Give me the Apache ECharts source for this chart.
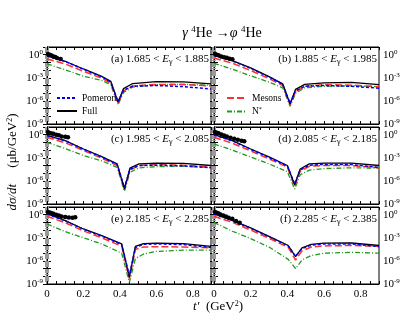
<!DOCTYPE html>
<html>
<head>
<meta charset="utf-8">
<script src="https://cdn.jsdelivr.net/npm/echarts@6/dist/echarts.min.js"></script>
<style>
  html, body { margin: 0; padding: 0; background: #fff; }
  #chart { width: 415px; height: 321px; }
</style>
</head>
<body>
<div id="chart"></div>
<script>
// t' grids (GeV^2), one per panel (dip position moves with E_gamma)
const tA = [0, 0.1, 0.2, 0.3, 0.35, 0.39, 0.42, 0.47, 0.6, 0.75, 0.9];
const tB = [0, 0.1, 0.2, 0.3, 0.375, 0.415, 0.445, 0.495, 0.6, 0.75, 0.9];
const tC = [0, 0.1, 0.2, 0.3, 0.385, 0.425, 0.455, 0.505, 0.6, 0.75, 0.9];
const tD = [0, 0.1, 0.2, 0.3, 0.4, 0.44, 0.47, 0.52, 0.6, 0.75, 0.9];
const tE = [0, 0.1, 0.2, 0.3, 0.41, 0.452, 0.485, 0.53, 0.6, 0.75, 0.9];
const tF = [0, 0.1, 0.2, 0.3, 0.405, 0.445, 0.48, 0.53, 0.6, 0.75, 0.9];

// dsigma/dt (mub/GeV^2)
const fullA = [7.4e-1, 1.4e-1, 1.4e-2, 1.55e-3, 3.5e-4, 6.5e-7, 4.0e-5, 1.8e-4, 3.2e-4, 3.0e-4, 1.6e-4];
const pomA  = [6.6e-1, 1.3e-1, 1.3e-2, 1.4e-3, 2.8e-4, 7.9e-7, 2.5e-5, 7.9e-5, 1.0e-4, 7.1e-5, 3.5e-5];
const mesA  = [2.8e-1, 6.3e-2, 7.1e-3, 8.9e-4, 2.0e-4, 5.0e-7, 2.0e-5, 8.9e-5, 1.4e-4, 1.3e-4, 8.9e-5];
const nstA  = [6.3e-2, 1.1e-2, 1.6e-3, 4.5e-4, 1.3e-4, 3.2e-7, 1.3e-5, 6.3e-5, 1.3e-4, 1.4e-4, 1.1e-4];

const fullB = [8.1e-1, 1.7e-1, 1.9e-2, 1.4e-3, 1.6e-4, 4.0e-7, 3.2e-5, 1.4e-4, 2.2e-4, 2.5e-4, 1.3e-4];
const pomB  = [7.6e-1, 1.6e-1, 1.7e-2, 1.3e-3, 1.4e-4, 5.0e-7, 2.0e-5, 7.9e-5, 1.0e-4, 7.9e-5, 4.5e-5];
const mesB  = [3.7e-1, 7.9e-2, 8.9e-3, 7.9e-4, 1.0e-4, 3.2e-7, 1.6e-5, 7.9e-5, 1.3e-4, 1.1e-4, 7.1e-5];
const nstB  = [7.6e-2, 1.3e-2, 1.8e-3, 2.8e-4, 5.0e-5, 2.0e-7, 1.0e-5, 5.0e-5, 7.9e-5, 8.9e-5, 7.1e-5];

const fullC = [8.1e-1, 1.7e-1, 1.4e-2, 1.4e-3, 1.6e-4, 8.9e-8, 4.5e-5, 1.6e-4, 2.0e-4, 1.9e-4, 1.0e-4];
const pomC  = [7.6e-1, 1.6e-1, 1.3e-2, 1.3e-3, 1.4e-4, 1.3e-7, 3.2e-5, 1.0e-4, 1.1e-4, 8.9e-5, 5.0e-5];
const mesC  = [4.6e-1, 8.9e-2, 8.9e-3, 8.9e-4, 1.0e-4, 1.0e-7, 2.5e-5, 1.0e-4, 1.3e-4, 1.1e-4, 6.3e-5];
const nstC  = [1.0e-1, 1.6e-2, 2.0e-3, 4.0e-4, 5.6e-5, 4.5e-8, 1.3e-5, 5.0e-5, 7.1e-5, 7.9e-5, 5.6e-5];

const fullD = [1.0, 1.7e-1, 1.4e-2, 1.3e-3, 1.0e-4, 3.2e-7, 3.5e-5, 1.6e-4, 2.0e-4, 2.0e-4, 1.0e-4];
const pomD  = [8.9e-1, 1.6e-1, 1.3e-2, 1.1e-3, 8.9e-5, 4.0e-7, 2.5e-5, 1.1e-4, 1.4e-4, 1.3e-4, 5.6e-5];
const mesD  = [4.6e-1, 7.9e-2, 7.9e-3, 7.1e-4, 6.3e-5, 2.0e-7, 1.8e-5, 7.9e-5, 1.0e-4, 1.0e-4, 5.0e-5];
const nstD  = [6.3e-2, 1.0e-2, 1.3e-3, 1.6e-4, 1.6e-5, 8.9e-8, 6.3e-6, 2.5e-5, 4.0e-5, 5.0e-5, 4.5e-5];

const fullE = [1.4, 1.7e-1, 1.4e-2, 1.9e-3, 1.6e-4, 7.4e-9, 7.9e-5, 1.8e-4, 2.0e-4, 1.8e-4, 7.9e-5];
const pomE  = [1.26, 1.6e-1, 1.3e-2, 1.7e-3, 1.3e-4, 1.3e-8, 5.6e-5, 1.4e-4, 1.6e-4, 1.3e-4, 5.6e-5];
const mesE  = [6.3e-1, 8.9e-2, 7.9e-3, 1.0e-3, 7.9e-5, 5.0e-9, 3.2e-5, 6.3e-5, 7.1e-5, 6.3e-5, 5.0e-5];
const nstE  = [6.2e-2, 6.3e-3, 1.0e-3, 1.6e-4, 1.0e-5, 1.6e-9, 2.0e-6, 7.9e-6, 1.7e-5, 2.5e-5, 2.5e-5];

const fullF = [1.4, 1.8e-1, 1.9e-2, 1.55e-3, 1.0e-4, 3.5e-6, 5.0e-5, 1.4e-4, 2.0e-4, 2.1e-4, 1.0e-4];
const pomF  = [1.26, 1.7e-1, 1.7e-2, 1.4e-3, 8.9e-5, 4.0e-6, 4.0e-5, 1.1e-4, 1.6e-4, 1.6e-4, 7.1e-5];
const mesF  = [6.3e-1, 1.0e-1, 1.0e-2, 8.9e-4, 5.6e-5, 1.3e-6, 2.0e-5, 6.3e-5, 8.9e-5, 1.0e-4, 7.9e-5];
const nstF  = [1.0e-1, 7.1e-3, 7.9e-4, 6.3e-5, 1.6e-6, 1.0e-7, 1.3e-6, 5.0e-6, 1.0e-5, 1.3e-5, 1.0e-5];

// measured points [t', dsigma/dt]
const dataA = [[0.005, 1.2], [0.015, 0.95], [0.025, 0.8], [0.035, 0.6], [0.045, 0.5], [0.055, 0.38], [0.075, 0.28]];
const dataB = [[0.005, 1.3], [0.015, 1.0], [0.025, 0.85], [0.04, 0.6], [0.055, 0.45], [0.07, 0.4], [0.085, 0.3], [0.1, 0.25]];
const dataC = [[0.005, 2.2], [0.015, 1.7], [0.025, 1.4], [0.035, 1.3], [0.05, 1.0], [0.065, 0.85], [0.08, 0.6], [0.1, 0.55], [0.115, 0.45]];
const dataD = [[0.005, 2.2], [0.015, 1.8], [0.025, 1.5], [0.04, 1.1], [0.055, 0.8], [0.07, 0.6], [0.09, 0.4], [0.11, 0.3], [0.13, 0.22], [0.15, 0.17], [0.165, 0.14]];
const dataE = [[0.005, 2.3], [0.015, 1.9], [0.025, 1.6], [0.035, 1.3], [0.05, 1.0], [0.065, 0.8], [0.08, 0.6], [0.1, 0.5], [0.12, 0.42], [0.14, 0.4], [0.155, 0.45]];
const dataF = [[0.005, 2.2], [0.015, 1.8], [0.025, 1.4], [0.035, 1.1], [0.05, 0.8], [0.065, 0.6], [0.08, 0.4], [0.1, 0.3], [0.12, 0.15], [0.14, 0.09]];

const panelNames = ['(a)', '(b)', '(c)', '(d)', '(e)', '(f)'];
const eLow = ['1.685', '1.885', '1.985', '2.085', '2.185', '2.285'];
const eHigh = ['1.885', '1.985', '2.085', '2.185', '2.285', '2.385'];

const panels = [
  { t: tA, full: fullA, pom: pomA, mes: mesA, nst: nstA, pts: dataA },
  { t: tB, full: fullB, pom: pomB, mes: mesB, nst: nstB, pts: dataB },
  { t: tC, full: fullC, pom: pomC, mes: mesC, nst: nstC, pts: dataC },
  { t: tD, full: fullD, pom: pomD, mes: mesD, nst: nstD, pts: dataD },
  { t: tE, full: fullE, pom: pomE, mes: mesE, nst: nstE, pts: dataE },
  { t: tF, full: fullF, pom: pomF, mes: mesF, nst: nstF, pts: dataF }
];

const FONT = "'Liberation Serif', 'DejaVu Serif', serif";
const supRich = { s: { fontSize: 7, fontFamily: FONT, color: '#000', padding: [0, 0, 6, 0] } };

let myChart = echarts.init(document.getElementById('chart'));

let grids = [], xAxes = [], yAxes = [], series = [], graphics = [];

const box = (i) => {
  const col = i % 2, row = Math.floor(i / 2);
  return { left: col ? 214 : 47, top: 47 + row * 80, width: col ? 165 : 164, height: 77 };
};

panels.forEach((p, i) => {
  const col = i % 2, row = Math.floor(i / 2);
  const b = box(i);
  grids.push({ left: b.left, top: b.top, width: b.width, height: b.height, show: true, borderColor: '#000', borderWidth: 1, backgroundColor: 'transparent' });

  // x axes: bottom (labelled on last row) + top (ticks only)
  ['bottom', 'top'].forEach(pos => {
    xAxes.push({
      type: 'value', gridIndex: i, position: pos, min: 0, max: 0.9, interval: 0.05,
      axisLine: { show: true, lineStyle: { color: '#000', width: 1 } },
      axisTick: { show: true, inside: true, length: 3, lineStyle: { color: '#000' } },
      axisLabel: {
        show: pos === 'bottom' && row === 2,
        fontFamily: FONT, fontSize: 11, color: '#000', margin: 5,
        formatter: v => (Math.round(v * 100) % 20 === 0 && v < 0.85) ? String(Math.round(v * 10) / 10) : ''
      },
      splitLine: { show: false }
    });
  });

  // y axes: left + right (log)
  ['left', 'right'].forEach(pos => {
    const labelled = (pos === 'left' && col === 0) || (pos === 'right' && col === 1);
    yAxes.push({
      type: 'log', logBase: 10, gridIndex: i, position: pos, min: 1e-9, max: 10, interval: 1,
      axisLine: { show: true, lineStyle: { color: '#000', width: 1 } },
      axisTick: { show: true, inside: true, length: 4, lineStyle: { color: '#000' } },
      minorTick: { show: true, splitNumber: 9, length: 2, lineStyle: { color: '#999' } },
      axisLabel: {
        show: labelled, fontFamily: FONT, fontSize: 11, color: '#000', margin: 4,
        formatter: v => {
          const e = Math.round(Math.log10(v));
          return (e % 3 === 0 && e <= 0) ? '10{s|' + e + '}' : '';
        },
        rich: supRich
      },
      splitLine: { show: false }
    });
  });

  const xi = 2 * i, yi = 2 * i;
  const mk = arr => p.t.map((t, k) => [t, arr[k]]);
  series.push(
    { name: 'N*', type: 'line', xAxisIndex: xi, yAxisIndex: yi, data: mk(p.nst), symbol: 'none',
      lineStyle: { color: '#1e9a1e', width: 1.3, type: [5, 2, 1, 2] }, itemStyle: { color: '#1e9a1e' } },
    { name: 'Mesons', type: 'line', xAxisIndex: xi, yAxisIndex: yi, data: mk(p.mes), symbol: 'none',
      lineStyle: { color: '#ff3030', width: 1.5, type: [7, 3] }, itemStyle: { color: '#ff3030' } },
    { name: 'Full', type: 'line', xAxisIndex: xi, yAxisIndex: yi, data: mk(p.full), symbol: 'none',
      lineStyle: { color: '#000', width: 1.3 }, itemStyle: { color: '#000' } },
    { name: 'Pomeron', type: 'line', xAxisIndex: xi, yAxisIndex: yi, data: mk(p.pom), symbol: 'none',
      lineStyle: { color: '#0000ee', width: 1.5, type: [3, 2] }, itemStyle: { color: '#0000ee' } },
    { name: 'data', type: 'scatter', xAxisIndex: xi, yAxisIndex: yi, data: p.pts, symbol: 'circle', symbolSize: 4.5,
      itemStyle: { color: '#000', opacity: 1 }, z: 5 }
  );

  // panel label
  graphics.push({
    type: 'text', z: 10,
    style: {
      x: b.left + b.width - 2, y: b.top + 12, align: 'right', verticalAlign: 'middle',
      text: panelNames[i] + ' ' + eLow[i] + ' < {i|E}{b|γ} < ' + eHigh[i],
      fontFamily: FONT, fontSize: 11, fill: '#000',
      rich: {
        i: { fontStyle: 'italic', fontFamily: FONT, fontSize: 11, fill: '#000' },
        b: { fontFamily: FONT, fontSize: 8, fill: '#000', padding: [5, 0, 0, 0] }
      }
    }
  });
});

// title and axis names
graphics.push(
  {
    type: 'text', z: 10,
    style: {
      x: 222, y: 33, align: 'center', verticalAlign: 'middle',
      text: '{i|γ} {s|4}He →{i|φ} {s|4}He',
      fontFamily: FONT, fontSize: 14, fill: '#000',
      rich: {
        i: { fontStyle: 'italic', fontFamily: FONT, fontSize: 14, fill: '#000' },
        s: { fontFamily: FONT, fontSize: 9, fill: '#000', padding: [0, 0, 7, 0] }
      }
    }
  },
  {
    type: 'text', z: 10,
    style: {
      x: 218, y: 307, align: 'center', verticalAlign: 'middle',
      text: '{i|t′}  (GeV{s|2})',
      fontFamily: FONT, fontSize: 13, fill: '#000',
      rich: {
        i: { fontStyle: 'italic', fontFamily: FONT, fontSize: 13, fill: '#000' },
        s: { fontFamily: FONT, fontSize: 8, fill: '#000', padding: [0, 0, 6, 0] }
      }
    }
  },
  {
    type: 'text', z: 10, x: 13, y: 162, rotation: Math.PI / 2,
    style: {
      x: 0, y: 0, align: 'center', verticalAlign: 'middle',
      text: '{i|dσ/dt}     (μb/GeV{s|2})',
      fontFamily: FONT, fontSize: 13, fill: '#000',
      rich: {
        i: { fontStyle: 'italic', fontFamily: FONT, fontSize: 13, fill: '#000' },
        s: { fontFamily: FONT, fontSize: 8, fill: '#000', padding: [0, 0, 6, 0] }
      }
    }
  }
);

const legendBase = {
  orient: 'vertical', itemWidth: 20, itemHeight: 8, itemGap: 3,
  itemStyle: { opacity: 0 },
  textStyle: { fontFamily: FONT, fontSize: 9.5, color: '#000', rich: { s: { fontSize: 6, fontFamily: FONT, padding: [0, 0, 5, 0] } } },
  formatter: name => name === 'N*' ? 'N{s|*}' : name,
  selectedMode: false
};

let option = {
  animation: false,
  backgroundColor: '#fff',
  grid: grids,
  xAxis: xAxes,
  yAxis: yAxes,
  legend: [
    Object.assign({}, legendBase, { data: ['Pomeron', 'Full'], left: 51, top: 88 }),
    Object.assign({}, legendBase, { data: ['Mesons', 'N*'], left: 221, top: 88 })
  ],
  graphic: graphics,
  series: series
};

myChart.setOption(option, true);
</script>
</body>
</html>
